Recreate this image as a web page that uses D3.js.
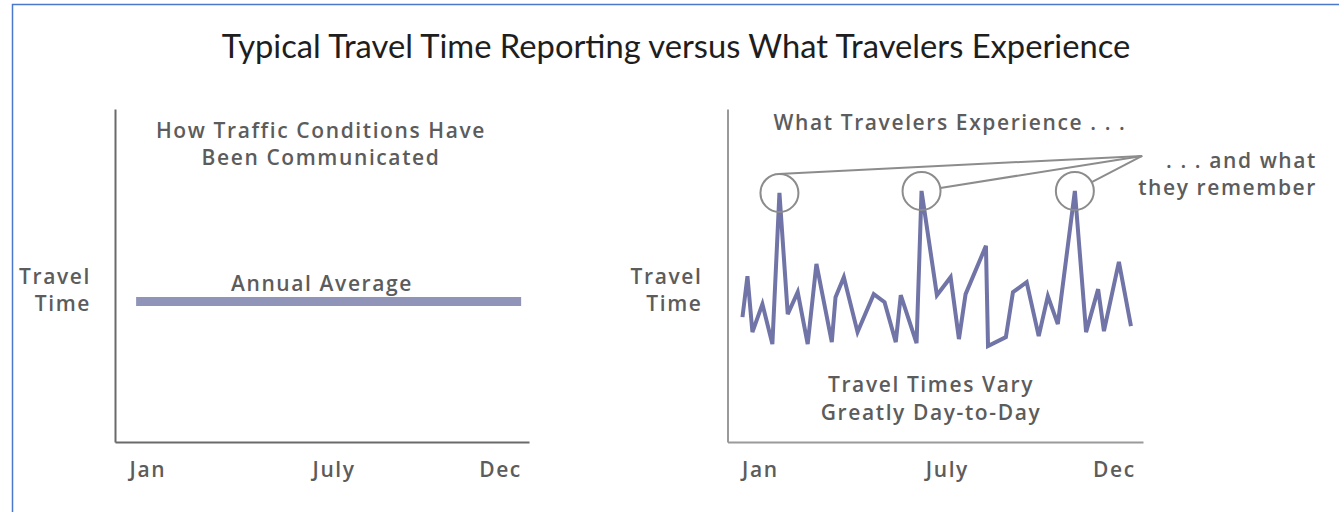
<!DOCTYPE html>
<html>
<head>
<meta charset="utf-8">
<script src="https://cdn.jsdelivr.net/npm/d3@7"></script>
<style>
  html, body { margin: 0; padding: 0; background: #fff; }
  svg { display: block; }
</style>
</head>
<body>
<svg id="chart" width="1339" height="512"></svg>
<script>
// ---------------- data ----------------
const chartTitle = "Typical Travel Time Reporting versus What Travelers Experience";
const monthLabels = ["Jan", "July", "Dec"];
const monthPositions = [7.8, 52.8, 93.0];          // position along the year (0–100)
const yAxisLabel = ["Travel", "Time"];

// left panel: the annual average
const leftHeading = ["How Traffic Conditions Have", "Been Communicated"];
const averageLabel = "Annual Average";
const averageSpan = [5.1, 98.1];                    // start / end along the year
const averageValue = 42.2;

// right panel: day-to-day travel time
const rightHeading = ["What Travelers Experience . . ."];
const rightNote = ["Travel Times Vary", "Greatly Day-to-Day"];
const rememberNote = [". . . and what", "they remember"];
const dayPositions = [3.6, 4.8, 6.0, 8.4, 10.8, 12.5, 14.5, 16.9, 19.3, 21.4, 25.1, 26.0, 28.0, 31.3,
  35.2, 37.8, 40.5, 41.7, 45.5, 46.7, 50.4, 53.7, 55.7, 57.3, 62.2, 62.7, 67.0, 68.7, 72.0, 74.9,
  77.1, 79.5, 83.6, 86.3, 89.2, 90.6, 94.2, 97.1];
const travelTimes = [37.5, 49.8, 33.0, 41.4, 29.4, 74.8, 38.4, 45.0, 29.4, 53.5, 30.0, 43.5, 49.5, 33.0,
  44.4, 42.0, 30.0, 44.1, 29.7, 75.4, 44.1, 49.5, 30.9, 44.4, 58.9, 28.8, 31.5, 45.0, 48.0, 31.8,
  43.8, 35.4, 75.4, 33.0, 45.9, 33.3, 54.1, 34.8];
const rememberedPeaks = [5, 19, 32];                // indexes of the spikes travelers remember
const rememberAttach = ["tangent", "radial", "radial"];
const rememberAnchor = [99.8, 85.9];               // where the callout lines meet

// ---------------- drawing ----------------
const svg = d3.select("#chart");
const LABEL_FONT = "'Open Sans', 'Noto Sans', sans-serif";
const LABEL_COLOR = "#5c5c5c";
const LABEL_SIZE = 21;
const LABEL_SPACING = 1.6;

// frame
svg.append("rect")
  .attr("x", 12.5).attr("y", 4.5).attr("width", 1400).attr("height", 600)
  .attr("fill", "none").attr("stroke", "#4a78cc").attr("stroke-width", 1.5);

// title
const title = svg.append("text")
  .attr("x", 676).attr("y", 58)
  .attr("text-anchor", "middle")
  .attr("font-family", "Lato, 'Open Sans', sans-serif")
  .attr("font-weight", 400)
  .attr("font-size", 29)
  .attr("fill", "#1e1e1e")
  .text(chartTitle);
fitWidth(title, 909);

function fitWidth(sel, target) {
  const fs = parseFloat(sel.attr("font-size"));
  const w = sel.node().getComputedTextLength();
  if (w > 0) sel.attr("font-size", fs * target / w);
}

function styleLabel(sel) {
  return sel.attr("font-family", LABEL_FONT)
    .attr("font-weight", 600)
    .attr("font-size", LABEL_SIZE)
    .attr("letter-spacing", LABEL_SPACING)
    .attr("fill", LABEL_COLOR);
}

function label(g, x, y, lines, anchor, lineGap) {
  const t = styleLabel(g.append("text")
    .attr("x", x).attr("y", y)
    .attr("text-anchor", anchor));
  lines.forEach((ln, i) => {
    t.append("tspan").attr("x", x).attr("dy", i === 0 ? 0 : lineGap).text(ln);
  });
  return t;
}

function panel(left, right, axisColor) {
  const x = d3.scaleLinear().domain([0, 100]).range([left, right]);
  const y = d3.scaleLinear().domain([0, 100]).range([442, 109]);
  const g = svg.append("g");

  // y axis (line only)
  const ya = g.append("g").attr("transform", `translate(${left},0)`)
    .call(d3.axisLeft(y).tickValues([]).tickSizeOuter(0));
  ya.select(".domain").attr("stroke", axisColor).attr("stroke-width", 2);

  // x axis with month labels
  const xa = g.append("g").attr("transform", `translate(0,${y(0)})`)
    .call(d3.axisBottom(x).tickValues(monthPositions)
      .tickFormat((d, i) => monthLabels[i]).tickSize(0).tickSizeOuter(0));
  xa.select(".domain").attr("stroke", axisColor).attr("stroke-width", 2);
  styleLabel(xa.selectAll(".tick text").attr("y", 35).attr("dy", 0));

  return { g, x, y };
}

// ---- left panel ----
const L = panel(115, 529, "#6a6a6a");
label(L.g, L.x(0) - 24, 284, yAxisLabel, "end", 27);
label(L.g, 321, 138, leftHeading, "middle", 27);
label(L.g, 322, 291, [averageLabel], "middle", 0);
L.g.append("line")
  .attr("x1", L.x(averageSpan[0])).attr("x2", L.x(averageSpan[1]))
  .attr("y1", L.y(averageValue)).attr("y2", L.y(averageValue))
  .attr("stroke", "#9094b8").attr("stroke-width", 9);

// ---- right panel ----
const R = panel(727.5, 1143, "#9a9a9a");
label(R.g, R.x(0) - 25, 284, yAxisLabel, "end", 27);
label(R.g, 950, 130, rightHeading, "middle", 0);
label(R.g, 931, 392, rightNote, "middle", 28);
label(R.g, 1317, 168, rememberNote, "end", 27);

const series = dayPositions.map((d, i) => ({ x: d, y: travelTimes[i] }));
R.g.append("path")
  .datum(series)
  .attr("fill", "none")
  .attr("stroke", "#7174a6")
  .attr("stroke-width", 4)
  .attr("stroke-linejoin", "miter")
  .attr("d", d3.line().x(d => R.x(d.x)).y(d => R.y(d.y)));

// callouts
const ax = R.x(rememberAnchor[0]), ay = R.y(rememberAnchor[1]);
const radius = 19;
rememberedPeaks.forEach((idx, k) => {
  const cx = R.x(series[idx].x), cy = R.y(series[idx].y);
  const dx = ax - cx, dy = ay - cy, dist = Math.hypot(dx, dy);
  let ang = Math.atan2(dy, dx);
  if (rememberAttach[k] === "tangent") ang -= Math.acos(radius / dist);
  R.g.append("line")
    .attr("x1", cx + radius * Math.cos(ang)).attr("y1", cy + radius * Math.sin(ang))
    .attr("x2", ax).attr("y2", ay)
    .attr("stroke", "#8c8c8c").attr("stroke-width", 2);
  R.g.append("circle")
    .attr("cx", cx).attr("cy", cy).attr("r", radius)
    .attr("fill", "none").attr("stroke", "#8c8c8c").attr("stroke-width", 2);
});
</script>
</body>
</html>
